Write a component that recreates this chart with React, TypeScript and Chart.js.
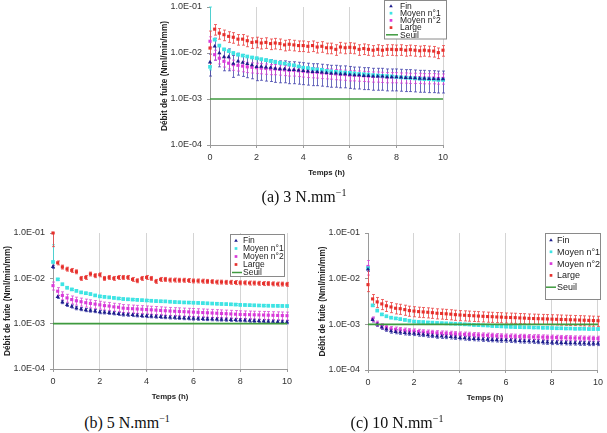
import React, { useEffect, useRef } from "react";
import { Chart, registerables } from "chart.js";

Chart.register(...registerables);

// ---------------- DATA ----------------
const times = [
  0, 0.2, 0.4, 0.6, 0.8, 1.0, 1.2, 1.4, 1.6, 1.8, 2.0, 2.2, 2.4, 2.6, 2.8, 3.0, 3.2, 3.4, 3.6, 3.8,
  4.0, 4.2, 4.4, 4.6, 4.8, 5.0, 5.2, 5.4, 5.6, 5.8, 6.0, 6.2, 6.4, 6.6, 6.8, 7.0, 7.2, 7.4, 7.6, 7.8,
  8.0, 8.2, 8.4, 8.6, 8.8, 9.0, 9.2, 9.4, 9.6, 9.8, 10,
];

const seriesNames = ["Fin", "Moyen n°1", "Moyen n°2", "Large"];
const seuilName = "Seuil";
const seuilX = [0, 10];
const seuilY = [1e-3, 1e-3];

const xTicks = [0, 2, 4, 6, 8, 10];
const yTicks = [1e-4, 1e-3, 1e-2, 1e-1];
const yTickLabels = ["1.0E-04", "1.0E-03", "1.0E-02", "1.0E-01"];
const xTitle = "Temps (h)";
const yTitle = "Débit de fuite (Nml/min/mm)";

// (a) 3 N.mm-1
const a_fin = [
  6.3e-3, 1.4e-2, 1.0e-2, 8.2e-3, 8.2e-3, 5.9e-3, 6.6e-3, 6.2e-3, 5.8e-3, 5.5e-3, 5.0e-3, 5.1e-3, 4.9e-3, 4.8e-3, 4.6e-3, 4.5e-3, 4.5e-3, 4.3e-3, 4.3e-3, 4.2e-3,
  4.1e-3, 4.0e-3, 3.9e-3, 3.9e-3, 3.8e-3, 3.7e-3, 3.6e-3, 3.6e-3, 3.5e-3, 3.5e-3, 3.4e-3, 3.3e-3, 3.3e-3, 3.2e-3, 3.2e-3, 3.1e-3, 3.1e-3, 3.1e-3, 3.0e-3, 3.0e-3,
  3.0e-3, 2.95e-3, 2.9e-3, 2.9e-3, 2.85e-3, 2.8e-3, 2.8e-3, 2.75e-3, 2.75e-3, 2.7e-3, 2.7e-3,
];
const a_moyen1 = [
  5.0e-3, 1.95e-2, 1.45e-2, 1.2e-2, 1.1e-2, 1.0e-2, 9.2e-3, 8.8e-3, 8.4e-3, 8.0e-3, 7.7e-3, 7.3e-3, 7.0e-3, 6.7e-3, 6.4e-3, 6.1e-3, 5.9e-3, 5.6e-3, 5.4e-3, 5.1e-3,
  4.8e-3, 4.7e-3, 4.5e-3, 4.4e-3, 4.3e-3, 4.1e-3, 4.0e-3, 3.9e-3, 3.8e-3, 3.75e-3, 3.7e-3, 3.6e-3, 3.5e-3, 3.45e-3, 3.4e-3, 3.3e-3, 3.25e-3, 3.2e-3, 3.15e-3, 3.1e-3,
  3.0e-3, 2.95e-3, 2.9e-3, 2.85e-3, 2.8e-3, 2.75e-3, 2.7e-3, 2.7e-3, 2.65e-3, 2.6e-3, 2.6e-3,
];
const a_moyen2 = [
  1.8e-2, 9.2e-3, 7.7e-3, 6.6e-3, 6.0e-3, 5.6e-3, 5.4e-3, 5.2e-3, 5.0e-3, 4.9e-3, 4.8e-3, 4.7e-3, 4.6e-3, 4.5e-3, 4.5e-3, 4.4e-3, 4.3e-3, 4.2e-3, 4.2e-3, 4.1e-3,
  4.0e-3, 3.9e-3, 3.85e-3, 3.8e-3, 3.7e-3, 3.65e-3, 3.6e-3, 3.5e-3, 3.45e-3, 3.4e-3, 3.3e-3, 3.3e-3, 3.25e-3, 3.2e-3, 3.15e-3, 3.1e-3, 3.1e-3, 3.05e-3, 3.0e-3, 3.0e-3,
  3.0e-3, 2.95e-3, 2.95e-3, 2.9e-3, 2.9e-3, 2.9e-3, 2.85e-3, 2.85e-3, 2.85e-3, 2.8e-3, 2.8e-3,
];
const a_large = [
  1.28e-2, 3.3e-2, 2.7e-2, 2.5e-2, 2.3e-2, 2.2e-2, 2.0e-2, 2.0e-2, 1.85e-2, 1.7e-2, 1.75e-2, 1.65e-2, 1.7e-2, 1.6e-2, 1.65e-2, 1.6e-2, 1.5e-2, 1.55e-2, 1.5e-2, 1.45e-2,
  1.45e-2, 1.4e-2, 1.45e-2, 1.35e-2, 1.4e-2, 1.3e-2, 1.3e-2, 1.2e-2, 1.35e-2, 1.3e-2, 1.33e-2, 1.3e-2, 1.2e-2, 1.25e-2, 1.2e-2, 1.15e-2, 1.2e-2, 1.15e-2, 1.2e-2, 1.2e-2,
  1.18e-2, 1.2e-2, 1.15e-2, 1.18e-2, 1.15e-2, 1.12e-2, 1.15e-2, 1.12e-2, 1.1e-2, 1.02e-2, 1.15e-2,
];
const a_errRel = [0.5, 0.05, 0.25, 0.26];
const a_firstBars = [null, [4.3e-3, 1e-1], null, [5e-3, 3e-2]];

// (b) 5 N.mm-1
const b_fin = [
  1.8e-2, 3.9e-3, 3.0e-3, 2.6e-3, 2.4e-3, 2.2e-3, 2.1e-3, 2.0e-3, 1.95e-3, 1.9e-3, 1.8e-3, 1.78e-3, 1.74e-3, 1.7e-3, 1.65e-3, 1.6e-3, 1.58e-3, 1.56e-3, 1.53e-3, 1.5e-3,
  1.48e-3, 1.46e-3, 1.44e-3, 1.42e-3, 1.4e-3, 1.38e-3, 1.37e-3, 1.35e-3, 1.33e-3, 1.32e-3, 1.3e-3, 1.29e-3, 1.28e-3, 1.27e-3, 1.26e-3, 1.25e-3, 1.24e-3, 1.23e-3, 1.22e-3, 1.21e-3,
  1.2e-3, 1.19e-3, 1.17e-3, 1.16e-3, 1.15e-3, 1.13e-3, 1.12e-3, 1.11e-3, 1.1e-3, 1.09e-3, 1.08e-3,
];
const b_moyen1 = [
  2.3e-2, 9.5e-3, 7.4e-3, 6.2e-3, 5.7e-3, 5.3e-3, 4.9e-3, 4.7e-3, 4.5e-3, 4.2e-3, 4.0e-3, 3.9e-3, 3.8e-3, 3.7e-3, 3.6e-3, 3.5e-3, 3.45e-3, 3.4e-3, 3.35e-3, 3.3e-3,
  3.25e-3, 3.2e-3, 3.15e-3, 3.12e-3, 3.1e-3, 3.05e-3, 3.0e-3, 2.97e-3, 2.94e-3, 2.92e-3, 2.9e-3, 2.87e-3, 2.84e-3, 2.81e-3, 2.78e-3, 2.75e-3, 2.72e-3, 2.7e-3, 2.67e-3, 2.64e-3,
  2.6e-3, 2.58e-3, 2.56e-3, 2.54e-3, 2.52e-3, 2.5e-3, 2.49e-3, 2.48e-3, 2.47e-3, 2.46e-3, 2.45e-3,
];
const b_moyen2 = [
  6.9e-3, 5.2e-3, 4.2e-3, 3.7e-3, 3.4e-3, 3.2e-3, 3.05e-3, 2.9e-3, 2.8e-3, 2.7e-3, 2.6e-3, 2.5e-3, 2.45e-3, 2.35e-3, 2.3e-3, 2.2e-3, 2.17e-3, 2.14e-3, 2.11e-3, 2.08e-3,
  2.05e-3, 2.02e-3, 1.99e-3, 1.96e-3, 1.93e-3, 1.9e-3, 1.88e-3, 1.86e-3, 1.84e-3, 1.82e-3, 1.8e-3, 1.78e-3, 1.76e-3, 1.74e-3, 1.72e-3, 1.7e-3, 1.68e-3, 1.66e-3, 1.64e-3, 1.62e-3,
  1.6e-3, 1.59e-3, 1.58e-3, 1.57e-3, 1.56e-3, 1.55e-3, 1.54e-3, 1.53e-3, 1.52e-3, 1.51e-3, 1.5e-3,
];
const b_large = [
  1.0e-1, 2.2e-2, 1.78e-2, 1.6e-2, 1.5e-2, 1.4e-2, 1.0e-2, 1.05e-2, 1.25e-2, 1.15e-2, 1.2e-2, 1.0e-2, 1.05e-2, 1.0e-2, 1.05e-2, 1.05e-2, 1.05e-2, 9.5e-3, 8.9e-3, 1.0e-2,
  1.05e-2, 1.0e-2, 8.6e-3, 9.5e-3, 9.5e-3, 9.2e-3, 9.2e-3, 9.1e-3, 9.1e-3, 9.0e-3, 8.8e-3, 8.8e-3, 8.7e-3, 8.6e-3, 8.5e-3, 8.3e-3, 8.3e-3, 8.2e-3, 8.2e-3, 8.1e-3,
  8.0e-3, 8.0e-3, 7.9e-3, 7.9e-3, 7.8e-3, 7.7e-3, 7.7e-3, 7.6e-3, 7.5e-3, 7.5e-3, 7.4e-3,
];
const b_errRel = [0.08, 0.05, 0.2, 0.1];
const b_firstBars = [null, [2.2e-2, 5.5e-2], null, [5e-2, 1e-1]];

// (c) 10 N.mm-1
const c_fin = [
  1.6e-2, 1.25e-3, 1.0e-3, 8.6e-4, 7.8e-4, 7.1e-4, 6.9e-4, 6.7e-4, 6.5e-4, 6.4e-4, 6.3e-4, 6.1e-4, 6.0e-4, 5.8e-4, 5.7e-4, 5.5e-4, 5.45e-4, 5.4e-4, 5.3e-4, 5.2e-4,
  5.1e-4, 5.0e-4, 4.9e-4, 4.85e-4, 4.8e-4, 4.7e-4, 4.65e-4, 4.6e-4, 4.55e-4, 4.5e-4, 4.5e-4, 4.45e-4, 4.4e-4, 4.35e-4, 4.3e-4, 4.3e-4, 4.25e-4, 4.2e-4, 4.1e-4, 4.05e-4,
  4.0e-4, 4.0e-4, 3.95e-4, 3.95e-4, 3.9e-4, 3.9e-4, 3.85e-4, 3.85e-4, 3.8e-4, 3.8e-4, 3.8e-4,
];
const c_moyen1 = [
  1.7e-2, 2.6e-3, 2.0e-3, 1.65e-3, 1.5e-3, 1.4e-3, 1.35e-3, 1.3e-3, 1.25e-3, 1.2e-3, 1.15e-3, 1.13e-3, 1.12e-3, 1.1e-3, 1.09e-3, 1.07e-3, 1.06e-3, 1.05e-3, 1.04e-3, 1.03e-3,
  1.02e-3, 1.0e-3, 9.9e-4, 9.7e-4, 9.6e-4, 9.5e-4, 9.4e-4, 9.2e-4, 9.1e-4, 9.0e-4, 8.9e-4, 8.8e-4, 8.7e-4, 8.7e-4, 8.6e-4, 8.6e-4, 8.5e-4, 8.5e-4, 8.4e-4, 8.4e-4,
  8.3e-4, 8.2e-4, 8.2e-4, 8.1e-4, 8.1e-4, 8.0e-4, 8.0e-4, 8.0e-4, 7.9e-4, 7.9e-4, 7.9e-4,
];
const c_moyen2 = [
  1.85e-2, 1.3e-3, 1.05e-3, 9.2e-4, 8.6e-4, 8.0e-4, 7.8e-4, 7.6e-4, 7.4e-4, 7.2e-4, 7.1e-4, 6.95e-4, 6.8e-4, 6.7e-4, 6.6e-4, 6.5e-4, 6.4e-4, 6.35e-4, 6.3e-4, 6.2e-4,
  6.1e-4, 6.05e-4, 6.0e-4, 5.9e-4, 5.85e-4, 5.8e-4, 5.75e-4, 5.7e-4, 5.6e-4, 5.55e-4, 5.5e-4, 5.5e-4, 5.45e-4, 5.4e-4, 5.4e-4, 5.35e-4, 5.3e-4, 5.3e-4, 5.25e-4, 5.2e-4,
  5.2e-4, 5.15e-4, 5.1e-4, 5.1e-4, 5.05e-4, 5.0e-4, 5.0e-4, 4.95e-4, 4.95e-4, 4.9e-4, 4.9e-4,
];
const c_large = [
  7.4e-3, 3.6e-3, 3.1e-3, 2.8e-3, 2.55e-3, 2.4e-3, 2.25e-3, 2.2e-3, 2.1e-3, 2.0e-3, 1.95e-3, 1.9e-3, 1.87e-3, 1.84e-3, 1.8e-3, 1.75e-3, 1.73e-3, 1.7e-3, 1.67e-3, 1.63e-3,
  1.6e-3, 1.58e-3, 1.56e-3, 1.54e-3, 1.52e-3, 1.5e-3, 1.48e-3, 1.47e-3, 1.45e-3, 1.44e-3, 1.42e-3, 1.41e-3, 1.4e-3, 1.38e-3, 1.37e-3, 1.35e-3, 1.34e-3, 1.33e-3, 1.32e-3, 1.31e-3,
  1.3e-3, 1.29e-3, 1.28e-3, 1.27e-3, 1.26e-3, 1.25e-3, 1.24e-3, 1.23e-3, 1.22e-3, 1.21e-3, 1.2e-3,
];
const c_errRel = [0.1, 0.05, 0.12, 0.25];
const c_firstBars = [null, null, [1.2e-2, 2.5e-2], [5.2e-3, 1.6e-2]];

const captions = ["(a) 3 N.mm", "(b) 5 N.mm", "(c) 10 N.mm"];
const captionSup = "−1";

// ---------------- STYLE ----------------
const seriesColors = ["#1d1d8c", "#3ee4e4", "#d93ad9", "#e6302c"];
const barColors = ["rgba(60,60,170,0.75)", "rgba(60,220,220,0.8)", "rgba(215,70,215,0.75)", "rgba(235,70,70,0.8)"];
const seriesStyles = ["triangle", "rect", "rect", "rect"];
const seriesRadius = [2.4, 2.6, 2.2, 2.2];
const seuilColor = "#3f9a3f";
const FONT = '"Liberation Sans", Arial, sans-serif';

type LegendCfg = { x: number; y: number; w: number; h: number; row0: number; dy: number; mx: number; tx: number; lx0: number; lx1: number; fs: number };

const panels = [
  {
    series: [a_fin, a_moyen1, a_moyen2, a_large], errRel: a_errRel, firstBars: a_firstBars, caption: captions[0],
    box: { left: 158, top: -4, width: 302, height: 185 }, padTop: 11, padRight: 17,
    legend: { x: 226.5, y: 4.5, w: 62, h: 38.5, row0: 10, dy: 7.2, mx: 233, tx: 242, lx0: 228, lx1: 240, fs: 8.5 },
    cap: { cx: 304, cy: 197 },
  },
  {
    series: [b_fin, b_moyen1, b_moyen2, b_large], errRel: b_errRel, firstBars: b_firstBars, caption: captions[1],
    box: { left: 1, top: 222, width: 299, height: 183 }, padTop: 11, padRight: 13,
    legend: { x: 229.5, y: 12.5, w: 54, h: 42, row0: 18.5, dy: 8, mx: 235, tx: 242, lx0: 231, lx1: 241, fs: 8.5 },
    cap: { cx: 127, cy: 423 },
  },
  {
    series: [c_fin, c_moyen1, c_moyen2, c_large], errRel: c_errRel, firstBars: c_firstBars, caption: captions[2],
    box: { left: 316, top: 222, width: 291, height: 184 }, padTop: 11, padRight: 5,
    legend: { x: 229.5, y: 11.5, w: 55, h: 66, row0: 18, dy: 11.8, mx: 235, tx: 241, lx0: 230, lx1: 240, fs: 9 },
    cap: { cx: 397, cy: 423 },
  },
];

const Y_AXIS_W = 52;
const X_AXIS_H = 36;

function drawMarker(ctx: CanvasRenderingContext2D, style: string, x: number, y: number, r: number, color: string) {
  ctx.fillStyle = color;
  ctx.beginPath();
  if (style === "triangle") {
    ctx.moveTo(x, y - r);
    ctx.lineTo(x + r, y + r * 0.7);
    ctx.lineTo(x - r, y + r * 0.7);
    ctx.closePath();
  } else {
    const s = r * 0.75;
    ctx.rect(x - s, y - s, 2 * s, 2 * s);
  }
  ctx.fill();
}

const errorBarPlugin = {
  id: "errorBars",
  beforeDatasetsDraw(chart: any) {
    const ctx = chart.ctx;
    const xs = chart.scales.x;
    const ys = chart.scales.y;
    chart.data.datasets.forEach((ds: any) => {
      if (ds.errRel === undefined) return;
      ctx.save();
      ctx.strokeStyle = ds.barColor;
      ctx.lineWidth = 1;
      ds.data.forEach((pt: any, i: number) => {
        let lo: number, hi: number;
        if (i === 0 && ds.firstBar) {
          lo = ds.firstBar[0];
          hi = ds.firstBar[1];
        } else {
          lo = pt.y * (1 - ds.errRel);
          hi = pt.y * (1 + ds.errRel);
        }
        lo = Math.max(lo, ys.min);
        hi = Math.min(hi, ys.max);
        const px = Math.round(xs.getPixelForValue(pt.x)) + 0.5;
        const p1 = ys.getPixelForValue(lo);
        const p2 = ys.getPixelForValue(hi);
        ctx.beginPath();
        ctx.moveTo(px, p1);
        ctx.lineTo(px, p2);
        ctx.moveTo(px - 1.5, p1);
        ctx.lineTo(px + 1.5, p1);
        ctx.moveTo(px - 1.5, p2);
        ctx.lineTo(px + 1.5, p2);
        ctx.stroke();
      });
      ctx.restore();
    });
  },
};

const boxLegendPlugin = {
  id: "boxLegend",
  afterDraw(chart: any, _args: any, opts: any) {
    const L: LegendCfg = opts.cfg;
    if (!L) return;
    const ctx = chart.ctx;
    ctx.save();
    ctx.fillStyle = "#ffffff";
    ctx.fillRect(L.x, L.y, L.w, L.h);
    ctx.strokeStyle = "#8a8a8a";
    ctx.lineWidth = 1;
    ctx.strokeRect(L.x, L.y, L.w, L.h);
    ctx.font = `${L.fs}px ${FONT}`;
    ctx.textBaseline = "middle";
    ctx.textAlign = "left";
    seriesNames.forEach((name, i) => {
      const y = L.row0 + i * L.dy;
      drawMarker(ctx, seriesStyles[i], L.mx, y, 1.8, seriesColors[i]);
      ctx.fillStyle = "#222";
      ctx.fillText(name, L.tx, y + 0.5);
    });
    const ys = L.row0 + 4 * L.dy;
    ctx.strokeStyle = seuilColor;
    ctx.lineWidth = 1.5;
    ctx.beginPath();
    ctx.moveTo(L.lx0, ys);
    ctx.lineTo(L.lx1, ys);
    ctx.stroke();
    ctx.fillStyle = "#222";
    ctx.fillText(seuilName, L.tx, ys + 0.5);
    ctx.restore();
  },
};

function Panel({ p }: { p: (typeof panels)[number] }) {
  const ref = useRef<HTMLCanvasElement>(null);
  useEffect(() => {
    if (!ref.current) return;
    const datasets: any[] = p.series.map((vals, i) => ({
      label: seriesNames[i],
      data: times.map((t, k) => ({ x: t, y: vals[k] })),
      showLine: false,
      pointStyle: seriesStyles[i],
      pointRadius: seriesRadius[i],
      pointBackgroundColor: seriesColors[i],
      pointBorderColor: seriesColors[i],
      pointBorderWidth: 0,
      errRel: p.errRel[i],
      firstBar: p.firstBars[i],
      barColor: barColors[i],
      clip: false,
    }));
    datasets.push({
      label: seuilName,
      data: seuilX.map((x, k) => ({ x, y: seuilY[k] })),
      showLine: true,
      borderColor: seuilColor,
      borderWidth: 1.6,
      pointRadius: 0,
      order: -1,
    });
    const chart = new Chart(ref.current, {
      type: "scatter",
      data: { datasets },
      plugins: [errorBarPlugin, boxLegendPlugin],
      options: {
        animation: false,
        responsive: false,
        maintainAspectRatio: false,
        events: [],
        layout: { padding: { top: p.padTop, right: p.padRight, left: 0, bottom: 0 } },
        plugins: {
          legend: { display: false },
          tooltip: { enabled: false },
          boxLegend: { cfg: p.legend },
        } as any,
        scales: {
          x: {
            type: "linear",
            position: "bottom",
            min: 0,
            max: 10,
            afterBuildTicks: (s: any) => {
              s.ticks = xTicks.map((v) => ({ value: v }));
            },
            afterFit: (s: any) => {
              s.height = X_AXIS_H;
            },
            grid: { color: "#d4d4d4", lineWidth: 1, drawTicks: true, tickLength: 3, tickColor: "#9a9a9a" },
            border: { display: true, color: "#9a9a9a" },
            ticks: { font: { family: FONT, size: 9 }, color: "#333", padding: 4, maxRotation: 0 },
            title: { display: false },
          },
          y: {
            type: "logarithmic",
            position: "left",
            min: 1e-4,
            max: 1e-1,
            afterBuildTicks: (s: any) => {
              s.ticks = yTicks.map((v) => ({ value: v }));
            },
            afterFit: (s: any) => {
              s.width = Y_AXIS_W;
            },
            grid: { display: true, drawOnChartArea: false, drawTicks: true, tickLength: 3, color: "#9a9a9a" },
            border: { display: true, color: "#9a9a9a" },
            ticks: {
              font: { family: FONT, size: 9 },
              color: "#333",
              padding: 5,
              callback: (v: any) => {
                const idx = yTicks.findIndex((t) => Math.abs(t - Number(v)) / t < 1e-6);
                return idx >= 0 ? yTickLabels[idx] : "";
              },
            },
            title: {
              display: true,
              text: yTitle,
              font: { family: FONT, size: 8.3, weight: "bold" },
              color: "#222",
              padding: { top: 2, bottom: 0 },
            },
          },
        },
      } as any,
    });
    return () => chart.destroy();
  }, [p]);
  return (
    <canvas
      ref={ref}
      width={p.box.width}
      height={p.box.height}
      style={{ position: "absolute", left: p.box.left, top: p.box.top, width: p.box.width, height: p.box.height }}
    />
  );
}

export default function App() {
  return (
    <div style={{ position: "absolute", left: 0, top: 0, width: 607, height: 433, background: "#fff", overflow: "hidden" }}>
      {panels.map((p, i) => (
        <Panel key={i} p={p} />
      ))}
      {panels.map((p, i) => {
        const plotLeft = p.box.left + Y_AXIS_W;
        const plotRight = p.box.left + p.box.width - p.padRight;
        const plotBottom = p.box.top + p.box.height - X_AXIS_H;
        return (
          <div
            key={"t" + i}
            style={{
              position: "absolute",
              left: (plotLeft + plotRight) / 2 - 40,
              width: 80,
              top: plotBottom + 28 - 6,
              height: 12,
              lineHeight: "12px",
              textAlign: "center",
              fontFamily: FONT,
              fontWeight: "bold",
              fontSize: 7.8,
              color: "#222",
              whiteSpace: "nowrap",
            }}
          >
            {xTitle}
          </div>
        );
      })}
      {panels.map((p, i) => (
        <div
          key={"c" + i}
          style={{
            position: "absolute",
            left: p.cap.cx - 90,
            width: 180,
            top: p.cap.cy - 10,
            textAlign: "center",
            fontFamily: '"Liberation Serif", "Times New Roman", serif',
            fontSize: 16,
            lineHeight: "20px",
            color: "#111",
            whiteSpace: "nowrap",
          }}
        >
          {p.caption}
          <sup style={{ fontSize: 10, lineHeight: 0, verticalAlign: "6px" }}>{captionSup}</sup>
        </div>
      ))}
    </div>
  );
}
